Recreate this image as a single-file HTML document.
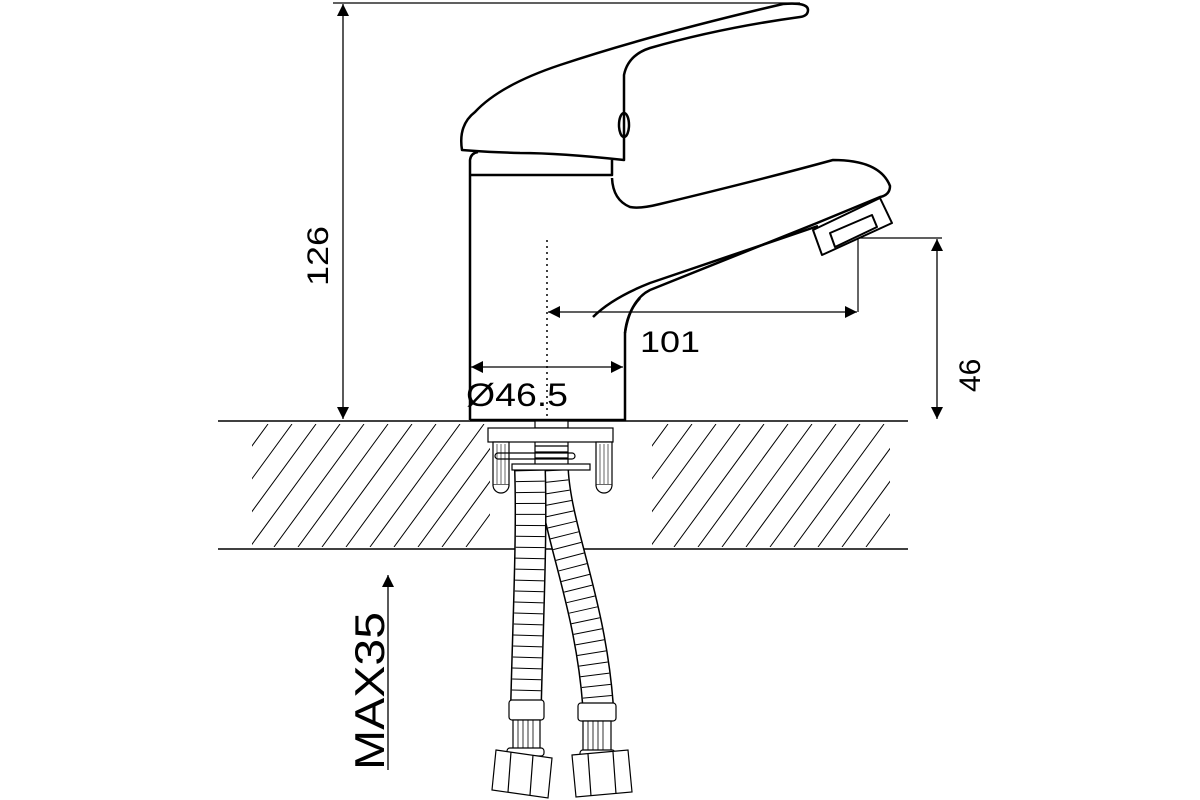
<!DOCTYPE html>
<html><head><style>body{margin:0;background:#fff}svg{display:block}</style></head><body>
<svg width="1200" height="800" viewBox="0 0 1200 800" xmlns="http://www.w3.org/2000/svg" font-family="Liberation Sans, Arial, sans-serif">
<defs>
<marker id="a" viewBox="0 0 10 10" refX="10" refY="5" markerWidth="16" markerHeight="12" markerUnits="userSpaceOnUse" orient="auto-start-reverse"><path d="M0,0L10,5L0,10z" fill="#000"/></marker>
<clipPath id="h1"><rect x="252" y="424" width="238" height="123"/></clipPath>
<clipPath id="h2"><rect x="652" y="424" width="238" height="123"/></clipPath>
</defs>
<g stroke="#000" fill="none">
<line x1="218" y1="421" x2="908" y2="421" stroke-width="1.5"/>
<line x1="218" y1="549" x2="908" y2="549" stroke-width="1.5"/>
<g stroke-width="1" clip-path="url(#h1)">
<path d="M130,547l90,-123M154,547l90,-123M178,547l90,-123M202,547l90,-123M226,547l90,-123M250,547l90,-123M274,547l90,-123M298,547l90,-123M322,547l90,-123M346,547l90,-123M370,547l90,-123M394,547l90,-123M418,547l90,-123M442,547l90,-123M466,547l90,-123"/>
</g>
<g stroke-width="1" clip-path="url(#h2)">
<path d="M554,547l90,-123M578,547l90,-123M602,547l90,-123M626,547l90,-123M650,547l90,-123M674,547l90,-123M698,547l90,-123M722,547l90,-123M746,547l90,-123M770,547l90,-123M794,547l90,-123M818,547l90,-123M842,547l90,-123M866,547l90,-123"/>
</g>
<line x1="333" y1="3" x2="800" y2="3" stroke-width="1.2"/>
<line x1="343" y1="4" x2="343" y2="419" stroke-width="1.3" marker-start="url(#a)" marker-end="url(#a)"/>
<line x1="860" y1="238" x2="942" y2="238" stroke-width="1.2"/>
<line x1="937" y1="239" x2="937" y2="419" stroke-width="1.3" marker-start="url(#a)" marker-end="url(#a)"/>
<line x1="858" y1="238" x2="858" y2="312" stroke-width="1.2"/>
<line x1="548" y1="312" x2="857" y2="312" stroke-width="1.3" marker-start="url(#a)" marker-end="url(#a)"/>
<line x1="471" y1="367" x2="623" y2="367" stroke-width="1.3" marker-start="url(#a)" marker-end="url(#a)"/>
<line x1="547" y1="240" x2="547" y2="420" stroke-width="1.5" stroke-dasharray="2,4"/>
<line x1="388" y1="575" x2="388" y2="770" stroke-width="1.3" marker-start="url(#a)"/>
<g stroke-width="2.5" stroke-linejoin="round">
<path d="M470,420V160Q471,153 478,152M470,420H625V333Q627,312 640,298"/>
<path d="M470,175H612V160"/>
<path d="M462,150Q458,125 475,112Q500,85 560,65Q650,35 783,4Q808,2 808,10Q808,16 800,17Q720,28 650,48Q628,55 624,75V160Q560,153 520,153Q485,152 462,150z"/>
<ellipse cx="624" cy="125" rx="5" ry="12"/>
<path d="M612,178Q613,200 630,207Q640,209 660,204Q760,180 833,160Q880,160 890,186Q890,195 880,197L817,223L650,290Q630,300 625,333"/>
<path d="M593,317Q612,298 650,283L818,226"/>
<path d="M813,230L880,198L892,223L822,255z" stroke-width="2"/>
<path d="M830,233L872,215L877,227L835,247z" stroke-width="2"/>
</g>
<g fill="none">
<path d="M553,470C556,530 590,600 598,705" stroke="#000" stroke-width="32"/>
<path d="M553,470C556,530 590,600 598,705" stroke="#fff" stroke-width="29"/>
<path d="M553,470C556,530 590,600 598,705" stroke="#000" stroke-width="29" stroke-dasharray="1,10"/>
<path d="M530,470C532,540 528,620 526,705" stroke="#000" stroke-width="32"/>
<path d="M530,470C532,540 528,620 526,705" stroke="#fff" stroke-width="29"/>
<path d="M530,470C532,540 528,620 526,705" stroke="#000" stroke-width="29" stroke-dasharray="1,10"/>
</g>
<g stroke-width="1.2" fill="#fff">
<rect x="535" y="421" width="33" height="45"/>
<path d="M535,428H568M535,434H568M535,440H568M535,446H568M535,452H568M535,458H568"/>
<rect x="488" y="428" width="125" height="14"/>
<rect x="493" y="442" width="16" height="43"/>
<path d="M493,485a8,8 0 0 0 16,0"/>
<rect x="596" y="442" width="16" height="43"/>
<path d="M596,485a8,8 0 0 0 16,0"/>
<path d="M497,444V484M501,444V484M505,444V484M600,444V484M604,444V484M608,444V484" stroke-width="0.6"/>
<rect x="495" y="453" width="80" height="6" rx="3" fill="none"/>
<rect x="512" y="464" width="78" height="6"/>
</g>
<g stroke-width="1.2" fill="#fff">
<rect x="509" y="700" width="35" height="20" rx="3"/>
<rect x="513" y="720" width="27" height="32"/>
<path d="M518,720V752M523,720V752M528,720V752M533,720V752" stroke-width="0.8"/>
<rect x="507" y="748" width="37" height="8" rx="3"/>
<path d="M496,750L552,758L548,798L492,790z"/>
<path d="M511,752L508,792M533,755L530,795"/>
<rect x="578" y="703" width="38" height="18" rx="3"/>
<rect x="583" y="721" width="28" height="32"/>
<path d="M588,721V753M593,721V753M598,721V753M603,721V753" stroke-width="0.8"/>
<rect x="580" y="750" width="35" height="8" rx="3"/>
<path d="M572,755L628,750L632,792L576,797z"/>
<path d="M588,754L591,796M613,752L616,794"/>
</g>
</g>
<g fill="#000" font-size="30">
<text x="0" y="0" transform="translate(328,286) rotate(-90)" textLength="60" lengthAdjust="spacingAndGlyphs">126</text>
<text x="0" y="0" transform="translate(980,392) rotate(-90)">46</text>
<text x="640" y="352" textLength="60" lengthAdjust="spacingAndGlyphs">101</text>
<text x="466" y="406" font-size="32" textLength="102" lengthAdjust="spacingAndGlyphs">Ø46.5</text>
<text x="0" y="0" font-size="42" transform="translate(384,770) rotate(-90)" textLength="158" lengthAdjust="spacingAndGlyphs">MAX35</text>
</g>
</svg>
</body></html>
